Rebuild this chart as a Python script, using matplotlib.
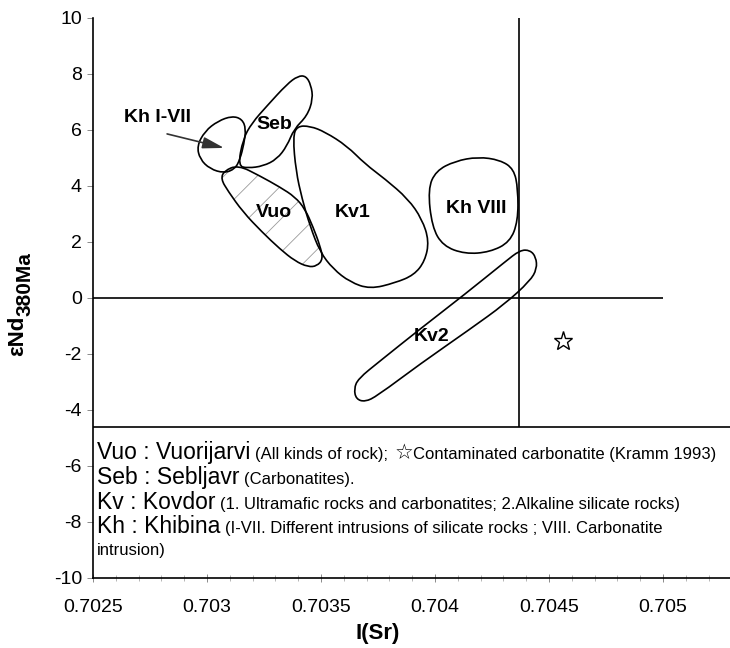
import numpy as np
import matplotlib.pyplot as plt
from matplotlib.path import Path
from matplotlib.patches import PathPatch
from matplotlib.ticker import MultipleLocator

plt.rcParams['font.family'] = ['Liberation Sans', 'DejaVu Sans']
plt.rcParams['hatch.linewidth'] = 0.6
plt.rcParams['axes.unicode_minus'] = False

# field outlines: I(Sr) and eNd(380 Ma)
kh17_x = [0.702956, 0.702991, 0.703048, 0.703110, 0.703154, 0.703171,
          0.703162, 0.703145, 0.703123, 0.703075, 0.703013, 0.702969]
kh17_y = [5.43, 5.96, 6.32, 6.50, 6.39, 6.04, 5.50, 4.96, 4.61, 4.46, 4.61, 4.96]

seb_x = [0.703136, 0.703158, 0.703197, 0.703263, 0.703351, 0.703399, 0.703434, 0.703456,
         0.703465, 0.703439, 0.703382, 0.703351, 0.703307, 0.703246, 0.703180]
seb_y = [4.71, 5.68, 6.25, 6.86, 7.64, 7.93, 7.93, 7.61, 7.11, 6.50, 6.04, 5.43, 4.96, 4.71, 4.64]

vuo_x = [0.703061, 0.703075, 0.703136, 0.703232, 0.703320, 0.703386, 0.703430, 0.703465, 0.703496,
         0.703509, 0.703482, 0.703443, 0.703386, 0.703320, 0.703241, 0.703158, 0.703092]
vuo_y = [4.25, 4.54, 4.75, 4.36, 3.96, 3.61, 3.18, 2.54, 1.86, 1.39, 1.14, 1.11, 1.32, 1.75,
         2.36, 3.07, 3.82]

kv1_x = [0.703377, 0.703395, 0.703452, 0.703518, 0.703614, 0.703693, 0.703781, 0.703882, 0.703943,
         0.703974, 0.703956, 0.703908, 0.703825, 0.703715, 0.703627, 0.703553, 0.703496, 0.703452,
         0.703417, 0.703390]
kv1_y = [5.75, 6.14, 6.14, 5.93, 5.43, 4.79, 4.25, 3.54, 2.82, 2.04, 1.32, 0.82, 0.54, 0.32,
         0.57, 1.04, 1.64, 2.57, 3.54, 4.54]

kh8_x = [0.703969, 0.704004, 0.704088, 0.704189, 0.704285, 0.704346, 0.704364, 0.704364,
         0.704329, 0.704241, 0.704132, 0.704035, 0.703987]
kh8_y = [3.89, 4.54, 4.89, 5.04, 4.93, 4.61, 3.89, 2.75, 2.00, 1.64, 1.57, 1.86, 2.54]

kv2_x = [0.703662, 0.703759, 0.703934, 0.704132, 0.704307, 0.704373, 0.704417, 0.704443, 0.704447,
         0.704417, 0.704307, 0.704154, 0.703934, 0.703746, 0.703693, 0.703654, 0.703645]
kv2_y = [-2.89, -2.25, -1.11, 0.14, 1.29, 1.71, 1.71, 1.46, 1.04, 0.61, -0.21, -1.11, -2.36,
         -3.50, -3.71, -3.61, -3.25]

# contaminated carbonatite (Kramm 1993)
star_x = [0.704561]
star_y = [-1.54]

field_labels = ['Seb', 'Vuo', 'Kv1', 'Kh VIII', 'Kv2']
label_x = [0.703294, 0.703294, 0.703640, 0.704180, 0.703987]
label_y = [6.21, 3.07, 3.07, 3.18, -1.39]

bulk_sr = 0.70437
sep_y = -4.6

legend_names = ['Vuo : Vuorijarvi', 'Seb : Sebljavr', 'Kv : Kovdor', 'Kh : Khibina']
legend_notes = ['(All kinds of rock);',
                '(Carbonatites).',
                '(1. Ultramafic rocks and carbonatites; 2.Alkaline silicate rocks)',
                '(I-VII. Different intrusions of silicate rocks ; VIII. Carbonatite']
legend_base = [-5.75, -6.64, -7.52, -8.40, -9.18]

xticks = [0.7025, 0.703, 0.7035, 0.704, 0.7045, 0.705]
xticklabels = ['0.7025', '0.703', '0.7035', '0.704', '0.7045', '0.705']
yticks = [-10, -8, -6, -4, -2, 0, 2, 4, 6, 8, 10]


def smooth_path(xs, ys):
    # closed quadratic b-spline through the outline points
    pts = np.column_stack([xs, ys])
    mids = (pts + np.roll(pts, -1, axis=0)) / 2
    verts = [mids[-1]]
    codes = [Path.MOVETO]
    for p, m in zip(pts, mids):
        verts += [p, m]
        codes += [Path.CURVE3, Path.CURVE3]
    return Path(verts, codes)


fig = plt.figure(figsize=(7.3, 6.48), dpi=100)
ax = fig.add_axes([93 / 730, 70 / 648, 637 / 730, 560 / 648])

ax.set_xlim(0.7025, 0.705294)
ax.set_ylim(-10, 10)

# reference lines
ax.hlines(0, 0.7025, 0.705, color='black', lw=1.2)
ax.vlines(bulk_sr, sep_y, 10, color='black', lw=1.2)
ax.axhline(sep_y, color='black', lw=1.2)

# Vuo hatching then outlines
ax.add_patch(PathPatch(smooth_path(vuo_x, vuo_y), facecolor='none', edgecolor='#9a9a9a',
                       hatch='/', lw=0))
for xs, ys in [(kh17_x, kh17_y), (seb_x, seb_y), (vuo_x, vuo_y), (kv1_x, kv1_y),
               (kh8_x, kh8_y), (kv2_x, kv2_y)]:
    ax.add_patch(PathPatch(smooth_path(xs, ys), facecolor='none', edgecolor='black', lw=1.2))

for lab, lx, ly in zip(field_labels, label_x, label_y):
    ax.text(lx, ly, lab, ha='center', va='center', fontsize=14, fontweight='bold')

ax.text(0.702785, 6.46, 'Kh I-VII', ha='center', va='center', fontsize=14, fontweight='bold')
ax.annotate('', xy=(0.703075, 5.36), xytext=(0.702825, 5.86),
            arrowprops=dict(arrowstyle='-|>,head_length=1.3,head_width=0.35',
                            color='#333333', lw=1.2, shrinkA=0, shrinkB=0))

ax.plot(star_x, star_y, marker='*', ms=14, mfc='white', mec='black', mew=1, ls='none')

# legend text block
x0 = 0.702518
for i, (name, note) in enumerate(zip(legend_names, legend_notes)):
    t = ax.text(x0, legend_base[i], name, fontsize=16.5, va='baseline')
    n = ax.annotate(note, xy=(1, legend_base[i]), xycoords=(t, 'data'),
                    xytext=(3, 0), textcoords='offset points', fontsize=12, va='baseline')
    if i == 0:
        s = ax.annotate('\u2606', xy=(1, legend_base[i]), xycoords=(n, 'data'),
                        xytext=(5, 0), textcoords='offset points', fontsize=15, va='baseline')
        ax.annotate('Contaminated carbonatite (Kramm 1993)', xy=(1, legend_base[i]),
                    xycoords=(s, 'data'), xytext=(0, 0), textcoords='offset points',
                    fontsize=12, va='baseline')
ax.text(x0, legend_base[4], 'intrusion)', fontsize=12, va='baseline')

# axes styling
for side in ['top', 'right']:
    ax.spines[side].set_visible(False)
for side in ['left', 'bottom']:
    ax.spines[side].set_linewidth(1.2)

ax.set_xticks(xticks)
ax.set_xticklabels(xticklabels)
ax.set_yticks(yticks)
ax.xaxis.set_minor_locator(MultipleLocator(0.0001))
ax.tick_params(axis='x', which='major', direction='inout', length=6, width=0.6,
               color='#777777', labelsize=14, pad=12)
ax.tick_params(axis='x', which='minor', direction='inout', length=4, width=0.5, color='#999999')
ax.tick_params(axis='y', which='major', direction='out', length=4, width=0.6,
               color='#777777', labelsize=14, pad=4)

# y label: eNd with lowered 380Ma
yl = fig.text(18 / 730, 1 - 356 / 648, '\u03b5Nd', rotation=90, ha='center', va='bottom',
              fontsize=16, fontweight='bold')
fig.text(0, 0, '')
ax.annotate('380Ma', xy=(0.5, 1), xycoords=yl, xytext=(5, 0), textcoords='offset points',
            rotation=90, ha='center', va='bottom', fontsize=15, fontweight='bold',
            annotation_clip=False)
fig.text(378 / 730, 1 - 633 / 648, 'I(Sr)', ha='center', va='center', fontsize=16,
         fontweight='bold')

fig.savefig('out.png', dpi=100)
